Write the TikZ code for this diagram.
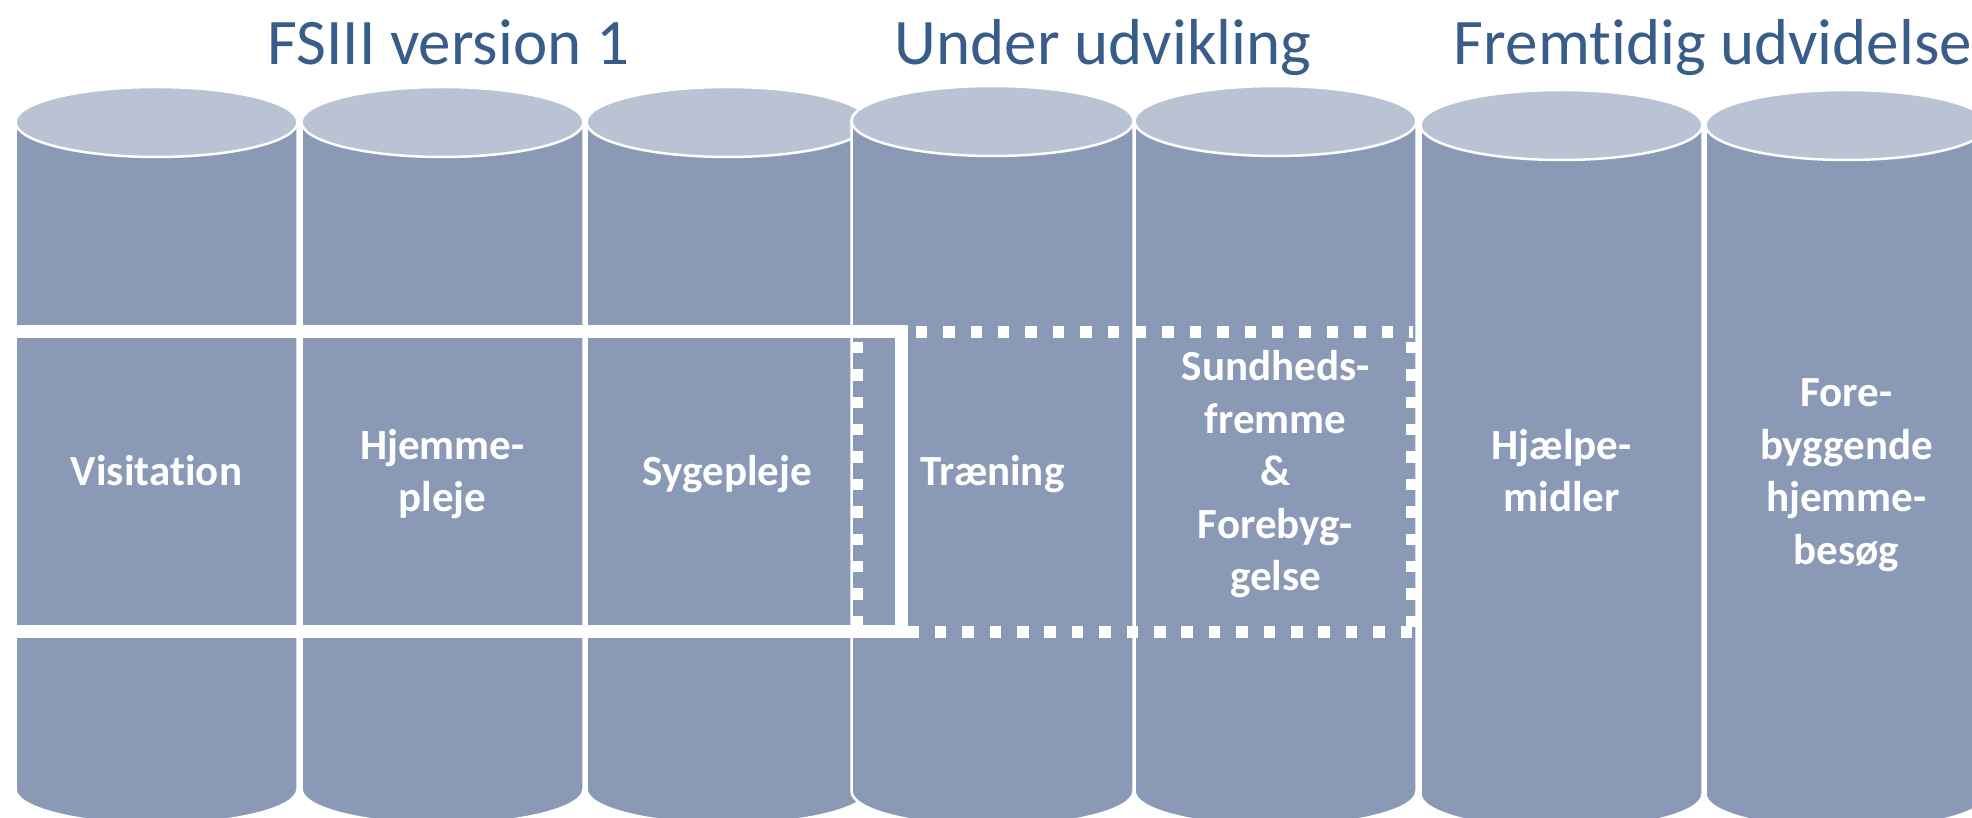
\documentclass[tikz,border=0pt]{standalone}
\usepackage{fontspec}
\setmainfont{Carlito}[Ligatures={NoCommon,NoContextual,NoRare}]
\definecolor{cylbody}{HTML}{8A9AB6}
\definecolor{cyltop}{HTML}{B9C3D4}
\definecolor{titleblue}{HTML}{385D8A}
\tikzset{
  cylbodystyle/.style={fill=cylbody, draw=white, line width=2.5pt},
  cyltopstyle/.style={fill=cyltop, draw=white, line width=2.5pt},
  solidband/.style={draw=white, line width=13pt},
  dotband/.style={draw=white, line width=12pt, dash pattern=on 11.5pt off 15.9pt},
  titlestyle/.style={text=titleblue, font=\fontsize{65}{78}\selectfont, inner sep=0pt, anchor=base},
  labelstyle/.style={text=white, font=\bfseries\fontsize{43}{52.5}\selectfont, inner sep=0pt, anchor=base},
}
\newcommand\mycyl[3]{%
  \filldraw[cylbodystyle] (#1-141,-#2) -- (#1-141,-#3)
    arc[start angle=180, end angle=360, x radius=141, y radius=35] -- (#1+141,-#2) -- cycle;
  \filldraw[cyltopstyle] (#1,-#2) ellipse[x radius=141, y radius=35];
}
\begin{document}
\begin{tikzpicture}[x=1pt,y=1pt]
  \useasboundingbox (0,-818) rectangle (1972,0);
  \clip (0,-818) rectangle (1972,0);
  \fill[white] (0,-818) rectangle (1972,0);

  % cylinders
  \mycyl{156.5}{122}{789}
  \mycyl{442.5}{122}{789}
  \mycyl{727.5}{122}{789}
  \mycyl{992.5}{121}{791}
  \mycyl{1275.5}{121}{791}
  \mycyl{1561.5}{125}{794}
  \mycyl{1846.5}{125}{794}

  % dotted band (Under udvikling)
  \draw[dotband, dash phase=23.5pt] (857,-331.5) -- (1413,-331.5);
  \draw[dotband, dash phase=4.4pt] (857,-631.5) -- (1413,-631.5);
  \draw[dotband, dash phase=17.2pt] (857,-331.5) -- (857,-631.5);
  \draw[dotband, dash phase=17.2pt] (1412,-331.5) -- (1412,-631.5);

  % solid band (FSIII version 1)
  \draw[solidband] (8,-331.5) rectangle (901.5,-631.5);

  % titles
  \node[titlestyle] (t1) at (448.4,-65) {FSIII version 1};
  \node[titlestyle] (t2) at (1103,-65) {Under udvikling};
  \node[titlestyle] (t3) at (1713,-65) {Fremt\kern0pt idig udvidelse};

  % labels
  \node[labelstyle] (l1) at (156.5,-485.5) {\begin{tabular}[t]{@{}c@{}}Visit\kern0pt at\kern0pt ion\end{tabular}};
  \node[labelstyle] (l2) at (442.5,-459.25) {\begin{tabular}[t]{@{}c@{}}Hjemme-\\pleje\end{tabular}};
  \node[labelstyle] (l3) at (727.5,-485.5) {\begin{tabular}[t]{@{}c@{}}Sygepleje\end{tabular}};
  \node[labelstyle] (l4) at (992.5,-485.5) {\begin{tabular}[t]{@{}c@{}}Træning\end{tabular}};
  \node[labelstyle] (l5) at (1275.5,-380.5) {\begin{tabular}[t]{@{}c@{}}Sundheds-\\fremme\\\&\\Forebyg-\\gelse\end{tabular}};
  \node[labelstyle] (l6) at (1561.5,-459.25) {\begin{tabular}[t]{@{}c@{}}Hjælpe-\\midler\end{tabular}};
  \node[labelstyle] (l7) at (1846.5,-406.75) {\begin{tabular}[t]{@{}c@{}}Fore-\\byggende\\hjemme-\\besøg\end{tabular}};
\end{tikzpicture}
\end{document}
